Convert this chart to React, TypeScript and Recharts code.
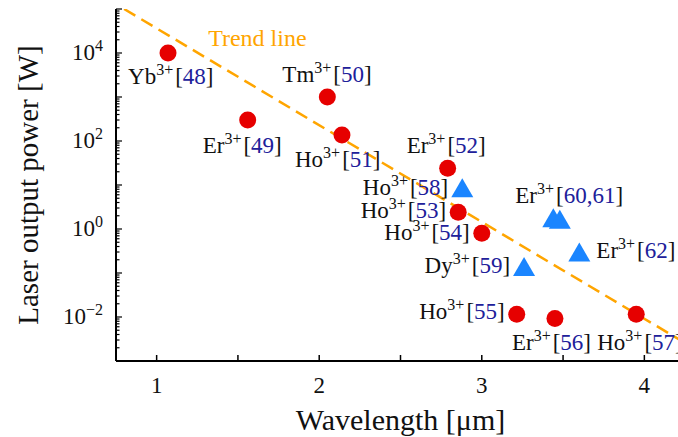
import React from 'react';
import { ComposedChart, XAxis, YAxis, Line, Scatter } from 'recharts';

// ---------- data ----------
const circleIons = ['Yb', 'Er', 'Tm', 'Ho', 'Er', 'Ho', 'Ho', 'Ho', 'Er', 'Ho'];
const circleRefs = ['48', '49', '50', '51', '52', '53', '54', '55', '56', '57'];
const circleWavelength = [1.07, 1.56, 2.05, 2.14, 2.79, 2.855, 3.0, 3.215, 3.45, 3.95];
const circlePower = [1e4, 300, 1000, 137, 24, 2.4, 0.8, 0.0115, 0.0093, 0.0115];

const triangleIons = ['Ho', 'Dy', 'Er', '', 'Er'];
const triangleRefs = ['58', '59', '60,61', '', '62'];
const triangleWavelength = [2.88, 3.26, 3.44, 3.48, 3.6];
const trianglePower = [8.7, 0.14, 1.8, 1.66, 0.3];

const trendWavelength = [0.8, 4.25];
const trendPower = [1e5, 0.00257];
const trendLabel = 'Trend line';

const xTicks = [1, 1.5, 2, 2.5, 3, 3.5, 4];
const xLabelTicks = [1, 2, 3, 4];
const yDecades = [-3, -2, -1, 0, 1, 2, 3, 4, 5];
const yLabelExponents = [-2, 0, 2, 4];

const xTitle = 'Wavelength [\u03bcm]';
const yTitle = 'Laser output power [W]';

// ---------- label placement (style, not data) ----------
type Place = [number, number, 'start' | 'end'];
const circlePlace: Place[] = [
  [-40, 31, 'start'],
  [-45, 33, 'start'],
  [-45, -15, 'start'],
  [-47, 32, 'start'],
  [-41, -15, 'start'],
  [-12, 6, 'end'],
  [-12, 7, 'end'],
  [-12, 5, 'end'],
  [-43, 32, 'start'],
  [-39, 36, 'start'],
];
const trianglePlace: Place[] = [
  [-14, 7, 'end'],
  [-14, 6, 'end'],
  [-38, -15, 'start'],
  [0, 0, 'start'],
  [17, 6, 'start'],
];

// ---------- styles ----------
const FONT = 'Liberation Serif';
const RED = '#e60000';
const TRI = '#1a85ff';
const REFBLUE = '#20209a';
const ORANGE = '#ffa500';

const circleData = circleWavelength.map((x, i) => ({
  x, y: circlePower[i], ion: circleIons[i], ref: circleRefs[i], place: circlePlace[i],
}));
const triangleData = triangleWavelength.map((x, i) => ({
  x, y: trianglePower[i], ion: triangleIons[i], ref: triangleRefs[i], place: trianglePlace[i],
}));
const trendData = trendWavelength.map((x, i) => ({ x, y: trendPower[i] }));

const yTicks: number[] = [];
yDecades.forEach((d) => {
  yTicks.push(Math.pow(10, d));
  if (d < 5) for (let m = 2; m <= 9; m++) yTicks.push(m * Math.pow(10, d));
});

function Annot({ x, y, anchor, ion, refNum }: any) {
  if (!ion) return null;
  return (
    <text x={x} y={y} textAnchor={anchor} fontFamily={FONT} fontSize={23} fill="#111">
      {ion}
      <tspan dy={-9} fontSize={16}>3+</tspan>
      <tspan dy={9} dx={2}>[</tspan>
      <tspan fill={REFBLUE}>{refNum}</tspan>
      <tspan>]</tspan>
    </text>
  );
}

const CircleShape = (props: any) => {
  const { cx, cy, payload } = props;
  if (cx == null || cy == null) return null;
  const [dx, dy, anchor] = payload.place;
  return (
    <g>
      <circle cx={cx} cy={cy} r={8.5} fill={RED} />
      <Annot x={cx + dx} y={cy + dy} anchor={anchor} ion={payload.ion} refNum={payload.ref} />
    </g>
  );
};

const TriangleShape = (props: any) => {
  const { cx, cy, payload } = props;
  if (cx == null || cy == null) return null;
  const [dx, dy, anchor] = payload.place;
  const pts = `${cx},${cy - 9.5} ${cx - 11},${cy + 9.5} ${cx + 11},${cy + 9.5}`;
  return (
    <g>
      <polygon points={pts} fill={TRI} />
      <Annot x={cx + dx} y={cy + dy} anchor={anchor} ion={payload.ion} refNum={payload.ref} />
    </g>
  );
};

const BottomTick = (props: any) => {
  const { x, y, payload } = props;
  const v = payload.value;
  return (
    <g>
      <line x1={x} x2={x} y1={y} y2={y - 6} stroke="#000" strokeWidth={1.5} />
      {xLabelTicks.includes(v) && (
        <text x={x} y={y + 32} textAnchor="middle" fontFamily={FONT} fontSize={23} fill="#111">
          {v}
        </text>
      )}
    </g>
  );
};

const TopTick = (props: any) => {
  const { x, y } = props;
  return <line x1={x} x2={x} y1={y} y2={y + 6} stroke="#000" strokeWidth={1.5} />;
};

const LeftTick = (props: any) => {
  const { x, y, payload } = props;
  const v = payload.value;
  const lg = Math.log10(v);
  const e = Math.round(lg);
  const major = Math.abs(lg - e) < 1e-6;
  const showLabel = major && yLabelExponents.includes(e);
  return (
    <g>
      <line x1={x} x2={x + (major ? 6 : 3.5)} y1={y} y2={y} stroke="#000" strokeWidth={1.2} />
      {showLabel && (
        <text x={x - 13} y={y + 7} textAnchor="end" fontFamily={FONT} fontSize={23} fill="#111">
          10
          <tspan dy={-9} fontSize={16}>{e < 0 ? '\u2212' + Math.abs(e) : String(e)}</tspan>
        </text>
      )}
    </g>
  );
};

const XTitle = (props: any) => {
  const vb = props.viewBox || {};
  return (
    <text x={vb.x + vb.width / 2} y={vb.y + 69} textAnchor="middle" fontFamily={FONT} fontSize={30} fill="#111">
      {xTitle}
    </text>
  );
};

const YTitle = (props: any) => {
  const vb = props.viewBox || {};
  const cx = 38;
  const cy = vb.y + vb.height / 2;
  return (
    <text x={cx} y={cy} textAnchor="middle" fontFamily={FONT} fontSize={29} fill="#111" transform={`rotate(-90, ${cx}, ${cy})`}>
      {yTitle}
    </text>
  );
};

const TrendLabel = (props: any) => {
  const { x, y, index } = props;
  if (index !== 0) return null;
  return (
    <text x={x + 84} y={y + 37} fontFamily={FONT} fontSize={24} fill={ORANGE}>
      {trendLabel}
    </text>
  );
};

export default function App() {
  return (
    <div style={{ position: 'absolute', left: 0, top: 0, width: 678, height: 437, overflow: 'hidden', background: '#fff' }}>
      <ComposedChart width={700} height={437} margin={{ top: 9, right: 15, bottom: 0, left: 0 }}>
        <XAxis
          type="number"
          dataKey="x"
          domain={[0.75, 4.25]}
          ticks={xTicks}
          interval={0}
          height={76}
          tickSize={0}
          tickMargin={0}
          tickLine={false}
          tick={<BottomTick />}
          axisLine={{ stroke: '#000', strokeWidth: 2 }}
          allowDataOverflow
          label={{ content: <XTitle /> } as any}
        />
        <XAxis
          xAxisId="top"
          orientation="top"
          type="number"
          dataKey="x"
          domain={[0.75, 4.25]}
          ticks={xTicks}
          interval={0}
          height={0}
          tickSize={0}
          tickMargin={0}
          tickLine={false}
          tick={<TopTick />}
          axisLine={{ stroke: '#000', strokeWidth: 2 }}
          allowDataOverflow
        />
        <YAxis
          type="number"
          dataKey="y"
          scale="log"
          domain={[0.001, 100000]}
          ticks={yTicks}
          interval={0}
          width={116}
          tickSize={0}
          tickMargin={0}
          tickLine={false}
          tick={<LeftTick />}
          axisLine={{ stroke: '#000', strokeWidth: 2 }}
          allowDataOverflow
          label={{ content: <YTitle /> } as any}
        />
        <Scatter data={circleData} dataKey="y" shape={<CircleShape />} isAnimationActive={false} />
        <Scatter data={triangleData} dataKey="y" shape={<TriangleShape />} isAnimationActive={false} />
        <Line
          data={trendData}
          dataKey="y"
          stroke={ORANGE}
          strokeWidth={2.5}
          strokeDasharray="13 7"
          dot={false}
          activeDot={false}
          isAnimationActive={false}
          label={<TrendLabel />}
        />
      </ComposedChart>
    </div>
  );
}
